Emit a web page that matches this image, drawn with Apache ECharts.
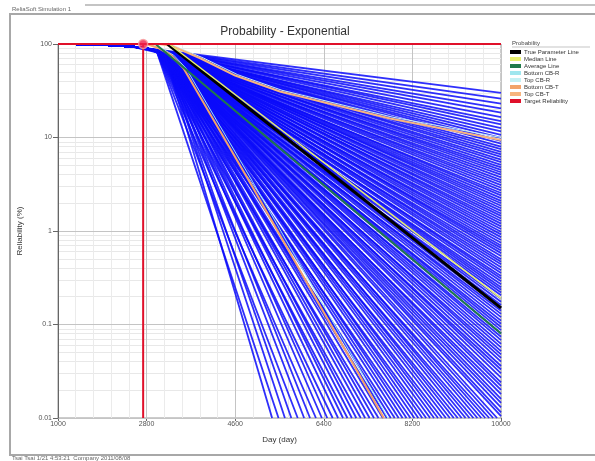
<!DOCTYPE html>
<html>
<head>
<meta charset="utf-8">
<script src="https://cdn.jsdelivr.net/npm/echarts@6/dist/echarts.min.js"></script>
<style>
  html, body { margin: 0; padding: 0; background: #fff; }
  #chart { width: 595px; height: 461px; }
</style>
</head>
<body>
<div id="chart"></div>
<script>
// x axis ticks (day) and y axis ticks (reliability, %)
const dayTicks = [1000, 2800, 4600, 6400, 8200, 10000]
const relTickLabels = ['0.01', '0.1', '1', '10', '100']
const relMinorTicks = [0.02, 0.03, 0.04, 0.05, 0.06, 0.07, 0.08, 0.09,
  0.2, 0.3, 0.4, 0.5, 0.6, 0.7, 0.8, 0.9,
  2, 3, 4, 5, 6, 7, 8, 9,
  20, 30, 40, 50, 60, 70, 80, 90]

// shared lead-in of the simulated lines before they fan out
const leadDay = [1350, 2000, 2500, 2800, 3000, 3150]
const leadRel = [100, 97.5, 94, 89.5, 85.5, 82]

// simulated lines leaving through the right edge (day 10000): [reliability, lead vertex where it branches]
const simEdgeLines = [
  [30, 2], [26, 2], [23, 3], [20.5, 2], [18.5, 3], [16.5, 3], [15, 2], [13.8, 3], [12.6, 3], [11.6, 2],
  [10.7, 3], [9.9, 3], [9.2, 3], [8.6, 4], [8.0, 3], [7.5, 3], [7.0, 4], [6.6, 3], [6.2, 4], [5.8, 3],
  [5.45, 4], [5.1, 4], [4.8, 3], [4.5, 4], [4.25, 4], [4.0, 3], [3.75, 4], [3.5, 4], [3.3, 3], [3.1, 4],
  [2.9, 4], [2.72, 4], [2.55, 3], [2.4, 4], [2.25, 4], [2.1, 4], [1.98, 4], [1.86, 5], [1.75, 4], [1.64, 5],
  [1.54, 5], [1.45, 4], [1.36, 5], [1.28, 4], [1.2, 5], [1.12, 5], [1.05, 4], [0.98, 5], [0.92, 5], [0.86, 4],
  [0.8, 5], [0.75, 5], [0.7, 5], [0.66, 4], [0.62, 5], [0.58, 5], [0.54, 4], [0.5, 5], [0.47, 5], [0.44, 4],
  [0.41, 5], [0.38, 5], [0.355, 5], [0.33, 4], [0.31, 5], [0.29, 5], [0.27, 4], [0.25, 5], [0.235, 5], [0.22, 5],
  [0.205, 5], [0.19, 4], [0.175, 5], [0.162, 5], [0.15, 5], [0.14, 4], [0.13, 5], [0.12, 5], [0.11, 5], [0.102, 4],
  [0.094, 5], [0.087, 5], [0.08, 5], [0.074, 4], [0.068, 5], [0.062, 5], [0.057, 5], [0.052, 5], [0.048, 4], [0.044, 5],
  [0.04, 5], [0.036, 5], [0.033, 4], [0.03, 5], [0.027, 5], [0.024, 5], [0.022, 5], [0.02, 4], [0.018, 5], [0.016, 5],
  [0.0145, 5], [0.013, 5], [0.0115, 5], [0.0105, 5]
]

// simulated lines leaving through the bottom edge (0.01 %): [day, lead vertex where it branches]
const simFloorLines = [
  [9920, 5], [9840, 5], [9760, 4], [9680, 5], [9600, 5], [9520, 5], [9440, 4], [9360, 5], [9280, 5], [9200, 5],
  [9120, 4], [9040, 5], [8960, 5], [8880, 5], [8800, 4], [8720, 5], [8640, 5], [8560, 5], [8480, 4], [8400, 5],
  [8320, 5], [8240, 5], [8160, 4], [8080, 5], [8000, 5], [7920, 5], [7840, 4], [7760, 5], [7680, 5], [7600, 5],
  [7510, 4], [7420, 5], [7330, 5], [7240, 5], [7150, 4], [7060, 5], [6970, 5], [6880, 4], [6790, 5], [6690, 5],
  [6580, 4], [6470, 5], [6360, 5], [6240, 4], [6120, 5], [6000, 5], [5870, 4], [5740, 5], [5610, 5], [5480, 4],
  [5350, 5]
]

// fitted lines
const trueDay = [3225, 10000]
const trueRel = [100, 0.15]
const medianDay = [3260, 10000]
const medianRel = [100, 0.19]
const averageDay = [2980, 10000]
const averageRel = [100, 0.08]
const topCbtDay = [3050, 3300, 3900, 4600, 5510, 7745, 10000]
const topCbtRel = [100, 96, 70, 46, 31, 16, 9.4]
const bottomCbtDay = [2800, 3050, 3300, 3550, 4900, 7620]
const bottomCbtRel = [100, 90, 76, 55, 3.3, 0.01]
const topCbrDay = [3100, 3350, 3950, 4650, 5550, 7800, 10000]
const topCbrRel = [100, 96, 71, 47, 32, 16.5, 10]
const bottomCbrDay = [2850, 3100, 3350, 3600, 4950, 7700]
const bottomCbrRel = [100, 90, 76, 55, 3.4, 0.01]

// target reliability cross-hair
const targetDay = 2730
const targetRel = 100

const legendNames = ['True Parameter Line', 'Median Line', 'Average Line', 'Bottom CB-R', 'Top CB-R',
  'Bottom CB-T', 'Top CB-T', 'Target Reliability']

function zip(xs, ys) {
  return xs.map((x, i) => [x, ys[i]])
}

function simPath(branch, endDay, endRel) {
  const pts = []
  for (let i = 0; i <= branch; i++) pts.push([leadDay[i], leadRel[i]])
  pts.push([endDay, endRel])
  return { coords: pts }
}

const simLines = []
simEdgeLines.forEach(([r, b]) => simLines.push(simPath(b, 10000, r)))
simFloorLines.forEach(([d, b]) => simLines.push(simPath(b, d, 0.01)))

function fitLine(name, xs, ys, color, width, z) {
  return {
    name,
    type: 'line',
    data: zip(xs, ys),
    showSymbol: false,
    symbol: 'none',
    z: z,
    lineStyle: { color, width },
    itemStyle: { color }
  }
}

const chart = echarts.init(document.getElementById('chart'))

const option = {
  animation: false,
  backgroundColor: '#fff',
  title: {
    text: 'Probability - Exponential',
    left: 280,
    top: 21,
    textAlign: 'center',
    textStyle: { fontSize: 12, fontWeight: 'normal', color: '#333', fontFamily: 'Liberation Sans' }
  },
  graphic: [
    { type: 'rect', shape: { x: 10, y: 14, width: 600, height: 441 }, style: { fill: 'none', stroke: '#a8a8a8', lineWidth: 2 } },
    { type: 'line', shape: { x1: 85, y1: 5, x2: 595, y2: 5 }, style: { stroke: '#c4c4c4', lineWidth: 2 } },
    { type: 'text', left: 12, top: 6, style: { text: 'ReliaSoft Simulation 1', fontSize: 6, fill: '#666' } },
    { type: 'text', left: 12, top: 455, style: { text: 'Tsai Tsai 1/21 4:53:21  Company 2011/08/08', fontSize: 6, fill: '#666' } },
    { type: 'text', left: 512, top: 40, style: { text: 'Probability', fontSize: 6, fill: '#444' } },
    { type: 'line', shape: { x1: 512, y1: 47, x2: 590, y2: 47 }, style: { stroke: '#888', lineWidth: 0.5 } }
  ],
  legend: {
    data: legendNames,
    orient: 'vertical',
    left: 510,
    top: 49,
    itemWidth: 11,
    itemHeight: 4,
    itemGap: 1,
    icon: 'rect',
    padding: 0,
    textStyle: { fontSize: 6, color: '#333', padding: [0, 0, 0, -2] }
  },
  grid: {
    left: 58,
    right: 94,
    top: 44,
    bottom: 43,
    show: true,
    borderColor: '#999',
    backgroundColor: '#fff'
  },
  xAxis: {
    type: 'value',
    min: dayTicks[0],
    max: dayTicks[dayTicks.length - 1],
    interval: dayTicks[1] - dayTicks[0],
    name: 'Day (day)',
    nameLocation: 'middle',
    nameGap: 18,
    nameTextStyle: { fontSize: 8, color: '#333' },
    axisLine: { show: true, lineStyle: { color: '#666' } },
    axisTick: { show: true, length: 3, lineStyle: { color: '#666' } },
    axisLabel: { fontSize: 7, color: '#555', margin: 3, formatter: (v) => String(v) },
    splitLine: { show: true, lineStyle: { color: '#c4c4c4' } },
    minorTick: { show: false, splitNumber: 5 },
    minorSplitLine: { show: true, lineStyle: { color: '#ebebeb' } }
  },
  yAxis: [
    {
      type: 'log',
      logBase: 10,
      min: 0.01,
      max: 100,
      name: 'Reliability (%)',
      nameLocation: 'middle',
      nameGap: 34,
      nameTextStyle: { fontSize: 8, color: '#333' },
      axisLine: { show: true, lineStyle: { color: '#666' } },
      axisTick: { show: true, length: 5, lineStyle: { color: '#666' } },
      axisLabel: {
        fontSize: 7,
        color: '#555',
        margin: 6,
        formatter: (v) => relTickLabels[Math.round(Math.log10(v)) + 2]
      },
      splitLine: { show: true, lineStyle: { color: '#c4c4c4' } },
      z: 1
    },
    {
      // minor log grid (2..9 in each decade)
      type: 'log',
      logBase: 10,
      min: 0.01,
      max: 100,
      position: 'left',
      axisLine: { show: false },
      axisLabel: { show: false },
      axisTick: { show: false, customValues: relMinorTicks },
      splitLine: { show: true, lineStyle: { color: '#e8e8e8' } },
      z: 0
    }
  ],
  series: [
    {
      type: 'lines',
      coordinateSystem: 'cartesian2d',
      polyline: true,
      silent: true,
      z: 2,
      lineStyle: { color: 'rgba(10,10,250,0.85)', width: 1.8, opacity: 1 },
      data: simLines
    },
    fitLine('Bottom CB-R', bottomCbrDay, bottomCbrRel, '#9fe6ee', 1, 3),
    fitLine('Top CB-R', topCbrDay, topCbrRel, '#c4f0f4', 1, 3),
    fitLine('Bottom CB-T', bottomCbtDay, bottomCbtRel, '#f2a36a', 2, 4),
    fitLine('Top CB-T', topCbtDay, topCbtRel, '#f7b57e', 2, 4),
    fitLine('Average Line', averageDay, averageRel, '#1f7a4a', 2, 5),
    fitLine('True Parameter Line', trueDay, trueRel, '#000', 3, 6),
    fitLine('Median Line', medianDay, medianRel, '#e8f070', 1.5, 7),
    {
      name: 'Target Reliability',
      type: 'line',
      data: [[targetDay, 0.01], [targetDay, targetRel], [dayTicks[0], targetRel], [dayTicks[dayTicks.length - 1], targetRel]],
      showSymbol: false,
      symbol: 'none',
      clip: false,
      z: 8,
      lineStyle: { color: '#e0102a', width: 2 },
      itemStyle: { color: '#e0102a' }
    },
    {
      name: 'Target Reliability',
      type: 'scatter',
      data: [[targetDay, targetRel]],
      symbolSize: 9,
      clip: false,
      z: 9,
      itemStyle: { color: '#f0204a', borderColor: '#f7a0a0', borderWidth: 1.5 }
    }
  ]
}

chart.setOption(option)
</script>
</body>
</html>
